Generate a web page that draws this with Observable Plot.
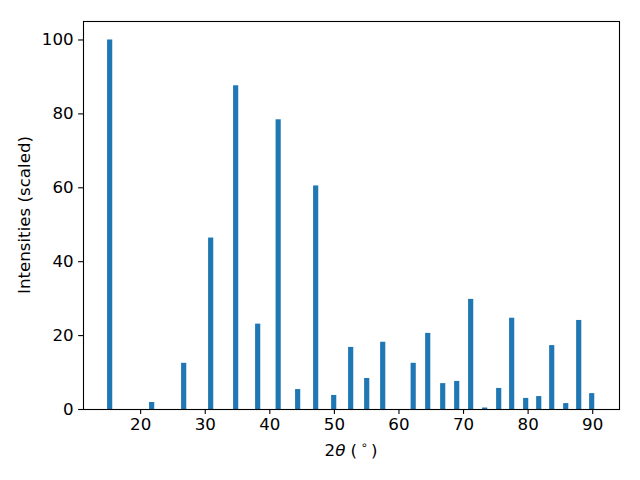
<!DOCTYPE html>
<html><head><meta charset="utf-8">
<script src="https://cdn.jsdelivr.net/npm/d3@7"></script>
<script src="https://cdn.jsdelivr.net/npm/@observablehq/plot@0.6"></script>
<style>body{margin:0;background:#fff} svg{font-family:"DejaVu Sans"}</style>
</head><body><div id="chart"></div>
<script>
const twoTheta = [15.28, 21.78, 26.74, 30.92, 34.79, 38.20, 41.37, 44.39, 47.18, 49.97, 52.60, 55.08, 57.56, 62.28, 64.53, 66.85, 69.02, 71.18, 73.35, 75.52, 77.53, 79.70, 81.72, 83.73, 85.90, 87.91, 89.92];
const intensity = [100, 1.9, 12.5, 46.4, 87.6, 23.1, 78.4, 5.4, 60.5, 3.8, 16.8, 8.4, 18.2, 12.5, 20.6, 7.0, 7.6, 29.8, 0.4, 5.7, 24.7, 3.0, 3.5, 17.3, 1.6, 24.1, 4.3];
const xTicks = [20, 30, 40, 50, 60, 70, 80, 90];
const yTicks = [0, 20, 40, 60, 80, 100];
const xLabel = {pre: "2", sym: "θ", mid: " (\u2009", sup: "∘", post: "\u2009)"};
const yLabel = "Intensities (scaled)";

const data = twoTheta.map((x, i) => ({x, y: intensity[i]}));
const barWidth = 0.8;
const fs = 16.67;

const chart = Plot.plot({
  width: 640, height: 480,
  marginLeft: 83, marginRight: 21, marginTop: 21, marginBottom: 71,
  style: {fontFamily: "DejaVu Sans", fontSize: fs + "px", color: "black", background: "white", overflow: "visible"},
  x: {domain: [11.15, 94.15]},
  y: {domain: [0, 105]},
  marks: [
    Plot.rectY(data, {x1: d => d.x - barWidth / 2, x2: d => d.x + barWidth / 2, y: "y", fill: "#1f77b4"}),
    Plot.frame({stroke: "black", strokeWidth: 1.1}),
    Plot.axisX({ticks: xTicks, tickSize: 4.9, tickPadding: 4, label: null, fontSize: fs, strokeWidth: 1.1}),
    Plot.axisY({ticks: yTicks, tickSize: 4.9, tickPadding: 5, label: null, fontSize: fs, strokeWidth: 1.1})
  ]
});
document.getElementById("chart").appendChild(chart);

const svg = d3.select(chart);
const xt = svg.append("text")
  .attr("x", 351).attr("y", 456)
  .attr("text-anchor", "middle")
  .attr("font-size", fs).attr("fill", "black");
xt.append("tspan").text(xLabel.pre);
xt.append("tspan").attr("font-style", "italic").text(xLabel.sym);
xt.append("tspan").text(xLabel.mid);
xt.append("tspan").attr("font-size", 11.5).attr("dy", -7).text(xLabel.sup);
xt.append("tspan").attr("dy", 7).text(xLabel.post);

svg.append("text")
  .attr("transform", "translate(30,215) rotate(-90)")
  .attr("text-anchor", "middle")
  .attr("font-size", fs).attr("fill", "black")
  .text(yLabel);
</script>
</body></html>
